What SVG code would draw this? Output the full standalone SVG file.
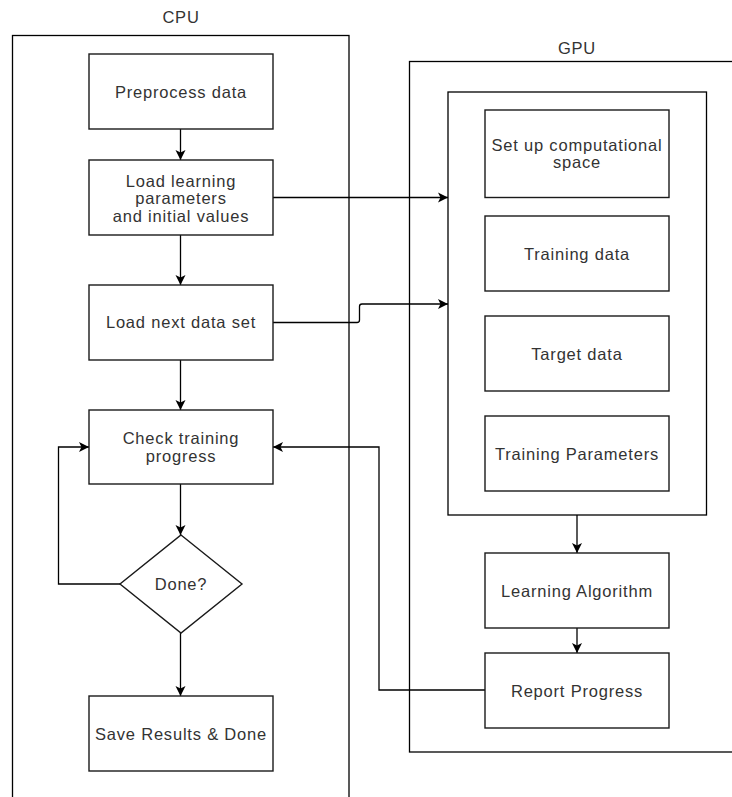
<svg xmlns="http://www.w3.org/2000/svg" width="732" height="797" viewBox="0 0 732 797">
  <style>
    .frame { fill: none; stroke: #000; stroke-width: 1.3; }
    .box { fill: #fff; stroke: #1a1a1a; stroke-width: 1.4; }
    .edge { fill: none; stroke: #000; stroke-width: 1.3; }
    .label { font-family: "Liberation Sans", Arial, sans-serif; font-size: 16.5px; fill: #333; text-anchor: middle; letter-spacing: 0.8px; }
  </style>
  <defs>
    <marker id="arrow" viewBox="0 0 10 10" refX="10" refY="5" markerWidth="10" markerHeight="11" markerUnits="userSpaceOnUse" orient="auto">
      <path d="M10,5 L0,0 L2.5,5 L0,10 Z" fill="#000"/>
    </marker>
  </defs>

  <rect width="732" height="797" fill="#fff"/>

  <!-- CPU lane -->
  <g id="cpu-lane">
    <rect class="frame" x="12.5" y="35.5" width="336.5" height="800"/>
    <text class="label" x="181" y="22.5">CPU</text>
  </g>

  <!-- GPU lane -->
  <g id="gpu-lane">
    <rect class="frame" x="409.5" y="61.5" width="340" height="690.5"/>
    <text class="label" x="577" y="54">GPU</text>
  </g>

  <!-- GPU data group -->
  <g id="gpu-group">
    <rect class="frame" x="448" y="92" width="258.5" height="423"/>
  </g>

  <!-- connectors -->
  <g id="connectors">
    <path class="edge" d="M180.5,129 V160" marker-end="url(#arrow)"/>
    <path class="edge" d="M180.5,235 V285" marker-end="url(#arrow)"/>
    <path class="edge" d="M180.5,360 V410" marker-end="url(#arrow)"/>
    <path class="edge" d="M180.5,484 V535" marker-end="url(#arrow)"/>
    <path class="edge" d="M180.5,633 V696" marker-end="url(#arrow)"/>
    <path class="edge" d="M120,584 H58.5 V447 H89" marker-end="url(#arrow)"/>
    <path class="edge" d="M273,197.5 H448" marker-end="url(#arrow)"/>
    <path class="edge" d="M273,322.5 H357 Q359.5,322.5 359.5,320 V306.5 Q359.5,304 362,304 H448" marker-end="url(#arrow)"/>
    <path class="edge" d="M577,515 V553" marker-end="url(#arrow)"/>
    <path class="edge" d="M577,628 V653" marker-end="url(#arrow)"/>
    <path class="edge" d="M485,690 H379 V447 H273" marker-end="url(#arrow)"/>
  </g>

  <!-- CPU steps -->
  <g id="preprocess">
    <rect class="box" x="89" y="54" width="184" height="75"/>
    <text class="label" x="181" y="97.5">Preprocess data</text>
  </g>
  <g id="load-params">
    <rect class="box" x="89" y="160" width="184" height="75"/>
    <text class="label" x="181" y="186.5">Load learning</text>
    <text class="label" x="181" y="204">parameters</text>
    <text class="label" x="181" y="221.5">and initial values</text>
  </g>
  <g id="load-next">
    <rect class="box" x="89" y="285" width="184" height="75"/>
    <text class="label" x="181" y="328">Load next data set</text>
  </g>
  <g id="check-progress">
    <rect class="box" x="89" y="410" width="184" height="74"/>
    <text class="label" x="181" y="444.3">Check training</text>
    <text class="label" x="181" y="461.5">progress</text>
  </g>
  <g id="done">
    <polygon class="box" points="181,535 242,584 181,633 120,584"/>
    <text class="label" x="181" y="590">Done?</text>
  </g>
  <g id="save-results">
    <rect class="box" x="89" y="696" width="184" height="75"/>
    <text class="label" x="181" y="739.5">Save Results &amp; Done</text>
  </g>

  <!-- GPU steps -->
  <g id="setup-space">
    <rect class="box" x="485" y="110" width="184" height="87.5"/>
    <text class="label" x="577" y="150.7">Set up computational</text>
    <text class="label" x="577" y="168.2">space</text>
  </g>
  <g id="training-data">
    <rect class="box" x="485" y="216" width="184" height="75"/>
    <text class="label" x="577" y="259.5">Training data</text>
  </g>
  <g id="target-data">
    <rect class="box" x="485" y="316" width="184" height="75"/>
    <text class="label" x="577" y="359.5">Target data</text>
  </g>
  <g id="training-params">
    <rect class="box" x="485" y="416" width="184" height="75"/>
    <text class="label" x="577" y="459.5">Training Parameters</text>
  </g>
  <g id="learning-algorithm">
    <rect class="box" x="485" y="553" width="184" height="75"/>
    <text class="label" x="577" y="596.5">Learning Algorithm</text>
  </g>
  <g id="report-progress">
    <rect class="box" x="485" y="653" width="184" height="75"/>
    <text class="label" x="577" y="696.5">Report Progress</text>
  </g>
</svg>
